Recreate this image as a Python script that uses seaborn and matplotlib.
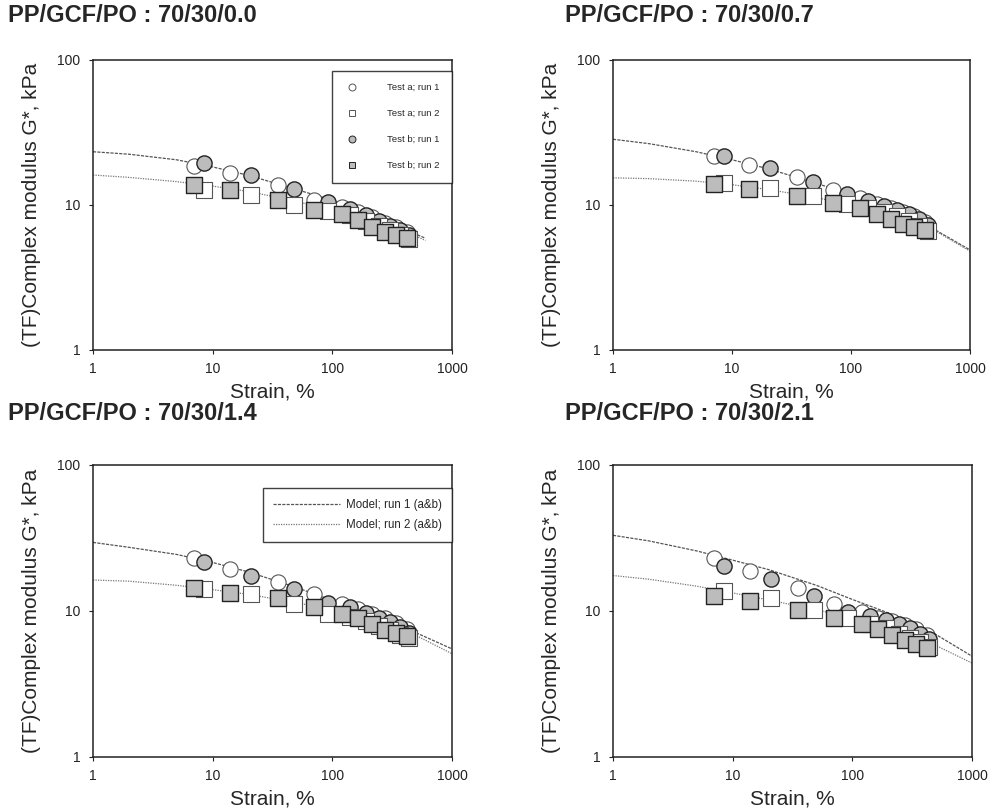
import numpy as np
import pandas as pd
import seaborn as sns
import matplotlib
matplotlib.use("Agg")
from matplotlib import pyplot as plt
from matplotlib.lines import Line2D

# data
titles = ["PP/GCF/PO : 70/30/0.0", "PP/GCF/PO : 70/30/0.7",
          "PP/GCF/PO : 70/30/1.4", "PP/GCF/PO : 70/30/2.1"]

strain_1 = [7, 14, 35, 70, 120, 165, 215, 275, 340, 420]    # test a run 1, test b run 2
strain_2 = [8.5, 21, 48, 92, 140, 190, 245, 305, 370, 440]  # test b run 1, test a run 2

test_a_run1 = [
    [18.6, 16.6, 13.7, 10.9, 9.7, 8.9, 8.2, 7.5, 7.0, 6.5],
    [21.8, 18.9, 15.7, 12.7, 11.1, 10.2, 9.6, 9.0, 8.4, 7.6],
    [22.9, 19.5, 15.8, 13.0, 11.1, 10.4, 9.6, 8.9, 8.3, 7.5],
    [22.9, 18.8, 14.3, 11.2, 9.8, 9.0, 8.5, 8.0, 7.5, 6.8],
]
test_b_run1 = [
    [19.6, 16.1, 12.8, 10.5, 9.4, 8.5, 7.8, 7.2, 6.7, 6.2],
    [21.8, 17.9, 14.3, 11.9, 10.6, 9.8, 9.2, 8.6, 8.0, 7.3],
    [21.7, 17.3, 14.1, 11.4, 10.6, 9.7, 9.0, 8.4, 7.8, 7.1],
    [20.3, 16.5, 12.6, 9.9, 9.3, 8.7, 8.1, 7.6, 7.0, 6.4],
]
test_a_run2 = [
    [12.7, 11.7, 10.0, 9.1, 8.5, 7.8, 7.2, 6.7, 6.2, 5.8],
    [14.2, 13.0, 11.5, 10.2, 9.6, 9.0, 8.4, 7.8, 7.2, 6.6],
    [14.1, 13.0, 11.2, 9.5, 9.1, 8.5, 7.9, 7.4, 6.9, 6.5],
    [13.7, 12.2, 10.1, 8.9, 8.2, 7.6, 7.0, 6.5, 6.1, 5.7],
]
test_b_run2 = [
    [13.7, 12.7, 10.9, 9.3, 8.7, 7.9, 7.1, 6.5, 6.2, 5.9],
    [14.0, 12.8, 11.6, 10.4, 9.5, 8.6, 8.0, 7.4, 7.0, 6.7],
    [14.3, 13.2, 12.2, 10.6, 9.6, 8.9, 8.2, 7.4, 7.1, 6.7],
    [12.6, 11.8, 10.1, 8.9, 8.1, 7.5, 6.9, 6.3, 5.9, 5.6],
]

model_strain = [
    [1, 2, 5, 10, 20, 50, 100, 200, 400, 600],
    [1, 2, 5, 10, 20, 50, 100, 200, 500, 1000],
    [1, 2, 5, 10, 20, 50, 100, 200, 500, 1000],
    [1, 2, 5, 10, 20, 50, 100, 200, 500, 1000],
]
model_run1 = [
    [23.3, 22.4, 20.5, 18.3, 16.0, 12.8, 10.8, 8.7, 6.8, 5.9],
    [28.4, 26.5, 23.3, 20.5, 17.8, 14.2, 11.8, 9.6, 6.8, 4.9],
    [29.5, 27.3, 24.4, 21.5, 18.5, 14.5, 11.8, 9.8, 7.1, 5.5],
    [33.0, 30.2, 25.8, 22.3, 19.2, 15.0, 12.0, 9.7, 6.9, 4.9],
]
model_run2 = [
    [16.1, 15.5, 14.5, 13.5, 12.4, 10.6, 9.2, 8.0, 6.6, 5.7],
    [15.4, 15.2, 14.6, 13.8, 12.8, 11.3, 10.0, 8.8, 6.7, 4.8],
    [16.3, 16.0, 15.0, 14.0, 13.0, 11.4, 10.2, 8.9, 6.8, 5.1],
    [17.5, 16.5, 14.8, 13.3, 11.9, 10.2, 8.9, 7.7, 5.8, 4.4],
]

sns.set_style("ticks")
plt.rcParams['font.family'] = ['Liberation Sans', 'DejaVu Sans']

fig = plt.figure(figsize=(9.92, 8.10), dpi=100)
W, H = 992, 810
boxes = [(93, 60, 452, 350), (613, 60, 970, 350),
         (93, 465, 452, 757), (613, 465, 972, 757)]
title_pos = [(8, 16), (565, 16), (8, 413), (565, 413)]

gray = "#bcbcbc"
open_edge = "#555555"
circ_s = 120
sq_s = 135

for k in range(4):
    l, t, r, b = boxes[k]
    ax = fig.add_axes([l / W, 1 - b / H, (r - l) / W, (b - t) / H])

    sns.lineplot(x=model_strain[k], y=model_run1[k], ax=ax, color="#555555",
                 linewidth=0.9, linestyle=(0, (2.5, 1)), estimator=None, sort=False, zorder=1)
    sns.lineplot(x=model_strain[k], y=model_run2[k], ax=ax, color="#777777",
                 linewidth=0.9, linestyle=(0, (1, 1)), estimator=None, sort=False, zorder=1)

    sns.scatterplot(x=strain_1, y=test_a_run1[k], ax=ax, marker="o", s=circ_s,
                    facecolor="white", edgecolor=open_edge, linewidth=0.8, zorder=3)
    sns.scatterplot(x=strain_2, y=test_b_run1[k], ax=ax, marker="o", s=circ_s,
                    facecolor=gray, edgecolor="#222222", linewidth=1.0, zorder=4)
    sns.scatterplot(x=strain_2, y=test_a_run2[k], ax=ax, marker="s", s=sq_s,
                    facecolor="white", edgecolor=open_edge, linewidth=0.8, zorder=5)
    sns.scatterplot(x=strain_1, y=test_b_run2[k], ax=ax, marker="s", s=sq_s,
                    facecolor=gray, edgecolor="#222222", linewidth=1.0, zorder=6)

    ax.set_xscale("log")
    ax.set_yscale("log")
    ax.set_xlim(1, 1000)
    ax.set_ylim(1, 100)
    ax.set_xticks([1, 10, 100, 1000])
    ax.set_xticklabels(["1", "10", "100", "1000"])
    ax.set_yticks([1, 10, 100])
    ax.set_yticklabels(["1", "10", "100"])
    ax.minorticks_off()
    ax.tick_params(labelsize=10, length=3, width=0.8, pad=6, colors="#222222")
    for sp in ax.spines.values():
        sp.set_linewidth(1.1)
        sp.set_color("#222222")
    ax.set_xlabel("Strain, %", fontsize=15, labelpad=4)
    ax.set_ylabel("(TF)Complex modulus G*, kPa", fontsize=15, labelpad=12)

    tx, ty = title_pos[k]
    fig.text(tx / W, 1 - ty / H, titles[k], fontsize=17, fontweight="bold",
             ha="left", va="center")

    if k == 0:
        handles = [
            Line2D([], [], ls="none", marker="o", ms=5, mfc="white", mec=open_edge, mew=0.7),
            Line2D([], [], ls="none", marker="s", ms=5, mfc="white", mec=open_edge, mew=0.7),
            Line2D([], [], ls="none", marker="o", ms=5, mfc=gray, mec="#222222", mew=0.7),
            Line2D([], [], ls="none", marker="s", ms=5, mfc=gray, mec="#222222", mew=0.7),
        ]
        leg = ax.legend(handles, ["Test a; run 1", "Test a; run 2", "Test b; run 1", "Test b; run 2"],
                        loc="upper right", bbox_to_anchor=(1.0, 0.962), borderaxespad=0,
                        fontsize=6.8, frameon=True, fancybox=False, labelspacing=1.8,
                        handletextpad=3.0, borderpad=1.3, handlelength=1.5)
        leg.get_frame().set_edgecolor("#111111")
        leg.get_frame().set_linewidth(1.0)
    if k == 2:
        handles = [
            Line2D([], [], color="#555555", lw=0.9, ls=(0, (2.5, 1))),
            Line2D([], [], color="#777777", lw=0.9, ls=(0, (1, 1))),
        ]
        leg = ax.legend(handles, ["Model; run 1 (a&b)", "Model; run 2 (a&b)"],
                        loc="upper right", bbox_to_anchor=(1.0, 0.92), borderaxespad=0,
                        fontsize=8.3, frameon=True, fancybox=False, labelspacing=0.75,
                        handletextpad=0.5, handlelength=5.8, borderpad=0.9)
        leg.get_frame().set_edgecolor("#111111")
        leg.get_frame().set_linewidth(1.0)

plt.savefig("out.png", dpi=100)
plt.close()
